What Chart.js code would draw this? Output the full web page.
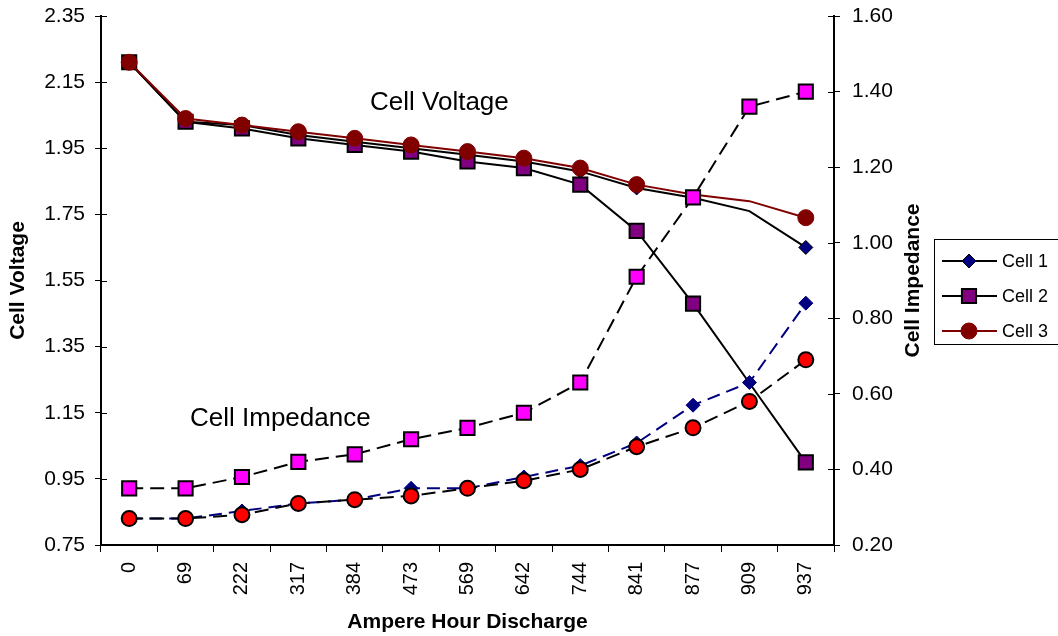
<!DOCTYPE html>
<html lang="en">
<head>
<meta charset="UTF-8">
<title>Cell Voltage and Impedance</title>
<style>
  html, body { margin: 0; padding: 0; background: #fff; }
  #wrap { width: 1058px; height: 636px; }
</style>
</head>
<body>
<div id="wrap"><canvas id="chart" width="1058" height="636"></canvas></div>

<script src="https://cdn.jsdelivr.net/npm/chart.js"></script>
<script>
// data
const discharge = ['0', '69', '222', '317', '384', '473', '569', '642', '744', '841', '877', '909', '937'];

const voltCell1 = [2.21, 2.03, 2.02, 1.99, 1.97, 1.95, 1.93, 1.91, 1.88, 1.83, 1.80, 1.76, 1.65];
const voltCell2 = [2.21, 2.03, 2.01, 1.98, 1.96, 1.94, 1.91, 1.89, 1.84, 1.70, 1.48, 1.24, 1.00];
const voltCell3 = [2.21, 2.04, 2.02, 2.00, 1.98, 1.96, 1.94, 1.92, 1.89, 1.84, 1.81, 1.79, 1.74];

const impCell1 = [0.27, 0.27, 0.29, 0.31, 0.32, 0.35, 0.35, 0.38, 0.41, 0.47, 0.57, 0.63, 0.84];
const impCell2 = [0.35, 0.35, 0.38, 0.42, 0.44, 0.48, 0.51, 0.55, 0.63, 0.91, 1.12, 1.36, 1.40];
const impCell3 = [0.27, 0.27, 0.28, 0.31, 0.32, 0.33, 0.35, 0.37, 0.40, 0.46, 0.51, 0.58, 0.69];

const voltTicks = [0.75, 0.95, 1.15, 1.35, 1.55, 1.75, 1.95, 2.15, 2.35];
const impTicks = [0.20, 0.40, 0.60, 0.80, 1.00, 1.20, 1.40, 1.60];

const FONT = '"Liberation Sans", Arial, sans-serif';

// some voltage points have no marker in the original
function voltRadius(r, hideAt) {
    const idx = hideAt.map(l => discharge.indexOf(l));
    return ctx => idx.includes(ctx.dataIndex) ? 0 : r;
}

// fixed axis box, no extra label overhang
function fitY(width) {
    return s => { s.width = width; s.paddingTop = 0; s.paddingBottom = 0; };
}

const extras = {
    id: 'extras',
    afterDraw(chart) {
        const ctx = chart.ctx;
        const a = chart.chartArea;
        const yl = chart.scales.y;
        const yr = chart.scales.y1;
        ctx.save();

        // inner half of the crossing tick marks
        ctx.strokeStyle = '#000';
        ctx.lineWidth = 1;
        ctx.beginPath();
        yl.ticks.forEach(t => {
            const p = Math.round(yl.getPixelForValue(t.value)) + 0.5;
            ctx.moveTo(a.left, p); ctx.lineTo(a.left + 6, p);
        });
        yr.ticks.forEach(t => {
            const p = Math.round(yr.getPixelForValue(t.value)) + 0.5;
            ctx.moveTo(a.right - 6, p); ctx.lineTo(a.right, p);
        });
        ctx.stroke();

        // labels inside the plot
        ctx.fillStyle = '#000';
        ctx.font = '26px ' + FONT;
        ctx.textAlign = 'left';
        ctx.textBaseline = 'alphabetic';
        ctx.fillText('Cell Voltage', 370, 110);
        ctx.fillText('Cell Impedance', 190, 426);

        // right axis title, reading upwards
        ctx.save();
        ctx.translate(913, (a.top + a.bottom) / 2);
        ctx.rotate(-Math.PI / 2);
        ctx.font = 'bold 21px ' + FONT;
        ctx.textAlign = 'center';
        ctx.textBaseline = 'middle';
        ctx.fillText('Cell Impedance', 0, 0);
        ctx.restore();

        // legend box
        ctx.lineWidth = 1;
        ctx.strokeRect(934.5, 239.5, 140, 105);
        const rows = [261, 296, 331];
        ctx.font = '18px ' + FONT;
        ctx.textBaseline = 'middle';
        [0, 1, 2].forEach((i, k) => {
            const ds = chart.data.datasets[i];
            const y = rows[k];
            ctx.strokeStyle = ds.borderColor;
            ctx.lineWidth = 2;
            ctx.beginPath();
            ctx.moveTo(942, y); ctx.lineTo(997, y);
            ctx.stroke();
            ctx.fillStyle = ds.pointBackgroundColor;
            ctx.strokeStyle = ds.pointBorderColor;
            ctx.lineWidth = ds.pointBorderWidth;
            Chart.helpers.drawPoint(ctx, {
                pointStyle: ds.pointStyle,
                radius: ds.legendRadius,
                borderWidth: ds.pointBorderWidth,
                rotation: 0
            }, 969, y);
            ctx.fillStyle = '#000';
            ctx.fillText(ds.label, 1002, y + 1);
        });
        ctx.restore();
    }
};

new Chart(document.getElementById('chart'), {
    type: 'line',
    data: {
        labels: discharge,
        datasets: [
            {
                label: 'Cell 1', data: voltCell1, yAxisID: 'y', order: 6,
                borderColor: '#000000', borderWidth: 2,
                pointStyle: 'rectRot', pointRadius: voltRadius(7, ['877', '909']), legendRadius: 7,
                pointBackgroundColor: '#000080', pointBorderColor: '#000000', pointBorderWidth: 1
            },
            {
                label: 'Cell 2', data: voltCell2, yAxisID: 'y', order: 5,
                borderColor: '#000000', borderWidth: 2,
                pointStyle: 'rect', pointRadius: voltRadius(10, ['909']), legendRadius: 10,
                pointBackgroundColor: '#800080', pointBorderColor: '#000000', pointBorderWidth: 2
            },
            {
                label: 'Cell 3', data: voltCell3, yAxisID: 'y', order: 4,
                borderColor: '#800000', borderWidth: 2,
                pointStyle: 'circle', pointRadius: voltRadius(8, ['877', '909']), legendRadius: 8,
                pointBackgroundColor: '#800000', pointBorderColor: '#800000', pointBorderWidth: 1
            },
            {
                label: 'Cell 1 impedance', data: impCell1, yAxisID: 'y1', order: 3,
                borderColor: '#000080', borderWidth: 2, borderDash: [13, 7],
                pointStyle: 'rectRot', pointRadius: 7,
                pointBackgroundColor: '#000080', pointBorderColor: '#000080', pointBorderWidth: 1
            },
            {
                label: 'Cell 3 impedance', data: impCell3, yAxisID: 'y1', order: 2,
                borderColor: '#000000', borderWidth: 2, borderDash: [14, 7],
                pointStyle: 'circle', pointRadius: 7.5,
                pointBackgroundColor: '#ff0000', pointBorderColor: '#000000', pointBorderWidth: 2
            },
            {
                label: 'Cell 2 impedance', data: impCell2, yAxisID: 'y1', order: 1,
                borderColor: '#000000', borderWidth: 2, borderDash: [14, 7],
                pointStyle: 'rect', pointRadius: 10,
                pointBackgroundColor: '#ff00ff', pointBorderColor: '#000000', pointBorderWidth: 2
            }
        ]
    },
    options: {
        responsive: false,
        animation: false,
        devicePixelRatio: 1,
        spanGaps: true,
        layout: { padding: { top: 16, right: 124, bottom: 0, left: 0 } },
        plugins: {
            legend: { display: false },
            tooltip: { enabled: false }
        },
        elements: { line: { tension: 0 } },
        scales: {
            x: {
                type: 'category',
                offset: true,
                grid: { display: true, drawOnChartArea: false, drawTicks: true, tickLength: 7, offset: true, color: '#000', lineWidth: 1 },
                border: { display: true, color: '#000', width: 2 },
                ticks: { minRotation: 90, maxRotation: 90, padding: 10, color: '#000', font: { family: FONT, size: 20 } },
                title: { display: true, text: 'Ampere Hour Discharge', color: '#000', font: { family: FONT, size: 21, weight: 'bold' }, padding: { top: 0, bottom: 1 } },
                afterFit: s => { s.height = 91; }
            },
            y: {
                position: 'left',
                min: 0.75, max: 2.35,
                afterBuildTicks: s => { s.ticks = voltTicks.map(v => ({ value: v })); },
                grid: { drawOnChartArea: false, drawTicks: true, tickLength: 6, color: '#000', lineWidth: 1 },
                border: { display: true, color: '#000', width: 2 },
                ticks: { padding: 10, color: '#000', font: { family: FONT, size: 21 }, callback: v => Number(v).toFixed(2) },
                title: { display: true, text: 'Cell Voltage', color: '#000', font: { family: FONT, size: 21, weight: 'bold' }, padding: { top: 6, bottom: 0 } },
                afterFit: fitY(101)
            },
            y1: {
                position: 'right',
                min: 0.2, max: 1.6,
                afterBuildTicks: s => { s.ticks = impTicks.map(v => ({ value: v })); },
                grid: { drawOnChartArea: false, drawTicks: true, tickLength: 6, color: '#000', lineWidth: 1 },
                border: { display: true, color: '#000', width: 2 },
                ticks: { padding: 12, color: '#000', font: { family: FONT, size: 21 }, callback: v => Number(v).toFixed(2) },
                afterFit: fitY(100)
            }
        }
    },
    plugins: [extras]
});
</script>
</body>
</html>
